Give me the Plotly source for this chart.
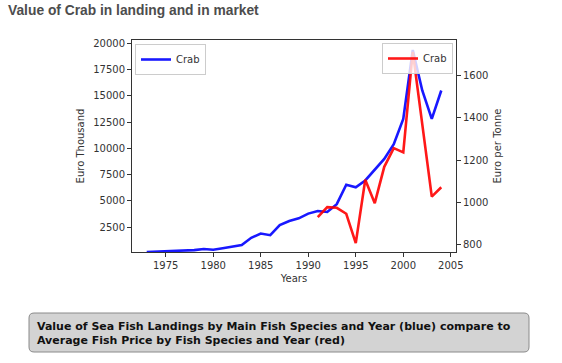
import plotly.graph_objects as go

years_landing = list(range(1973, 2005))
value_landing = [150, 180, 200, 280, 300, 330, 430, 360, 500, 650, 820, 1500, 1900, 1750,
                 2700, 3100, 3350, 3800, 4050, 3950, 4700, 6550, 6300, 6950, 7950, 9000,
                 10400, 12800, 19350, 15500, 12800, 15500]
years_price = list(range(1991, 2005))
price_market = [931, 978, 975, 947, 809, 1107, 997, 1168, 1256, 1236, 1709, 1360, 1028, 1072]

W, H = 562, 363
L, R, T, B = 132, 456, 40, 252
pw, ph = R - L, B - T

def px(x):
    return (x - L) / pw

def py(y):
    return (B - y) / ph

fig = go.Figure()
fig.add_trace(go.Scatter(x=years_landing, y=value_landing, mode="lines", name="Crab",
                         line=dict(color="#0000ff", width=2.6), opacity=0.9,
                         legend="legend", yaxis="y", showlegend=True))
fig.add_trace(go.Scatter(x=years_price, y=price_market, mode="lines", name="Crab",
                         line=dict(color="#ff0000", width=2.6), opacity=0.9,
                         legend="legend2", yaxis="y2", showlegend=True))

tickfont = dict(family="DejaVu Sans", size=10, color="#333333")
axis_common = dict(showgrid=False, zeroline=False, showline=True, linecolor="#333333",
                   linewidth=1, ticks="outside", ticklen=4, tickcolor="#333333",
                   tickfont=tickfont, tickformat="d")

x0, x1, y0, y1, r = 29, 529, 313, 352, 5
path = (f"M {px(x0 + r)},{py(y0)} L {px(x1 - r)},{py(y0)} Q {px(x1)},{py(y0)} {px(x1)},{py(y0 + r)} "
        f"L {px(x1)},{py(y1 - r)} Q {px(x1)},{py(y1)} {px(x1 - r)},{py(y1)} "
        f"L {px(x0 + r)},{py(y1)} Q {px(x0)},{py(y1)} {px(x0)},{py(y1 - r)} "
        f"L {px(x0)},{py(y0 + r)} Q {px(x0)},{py(y0)} {px(x0 + r)},{py(y0)} Z")

titlefont = dict(family="DejaVu Sans", size=10, color="#333333")
legfont = dict(family="DejaVu Sans", size=10, color="#333333")

fig.update_layout(
    width=W, height=H,
    margin=dict(l=L, r=W - R, t=T, b=H - B),
    paper_bgcolor="white", plot_bgcolor="white",
    showlegend=True,
    xaxis=dict(range=[1971.45, 2005.55], tickvals=[1975, 1980, 1985, 1990, 1995, 2000, 2005],
               mirror=True, title=dict(text="Years", font=titlefont, standoff=4), **axis_common),
    yaxis=dict(range=[150, 20300], tickvals=[2500, 5000, 7500, 10000, 12500, 15000, 17500, 20000],
               title=dict(text="Euro Thousand", font=titlefont, standoff=6), **axis_common),
    yaxis2=dict(range=[767, 1765], tickvals=[800, 1000, 1200, 1400, 1600], overlaying="y", side="right",
                title=dict(text="Euro per Tonne", font=titlefont, standoff=6), **axis_common),
    legend=dict(x=px(135), y=py(44), xanchor="left", yanchor="top",
                bgcolor="rgba(255,255,255,0.8)", bordercolor="#cccccc", borderwidth=1,
                font=legfont, itemwidth=30, tracegroupgap=0, visible=True),
    legend2=dict(x=px(453), y=py(43), xanchor="right", yanchor="top",
                 bgcolor="rgba(255,255,255,0.8)", bordercolor="#cccccc", borderwidth=1,
                 font=legfont, itemwidth=30, tracegroupgap=0, visible=True),
    shapes=[dict(type="path", path=path, xref="paper", yref="paper",
                 fillcolor="#d3d3d3", line=dict(color="#8a8a8a", width=1), layer="below")],
    annotations=[
        dict(text="<b>Value of Crab in landing and in market</b>", x=px(6), y=py(11),
             xref="paper", yref="paper", xanchor="left", yanchor="middle", showarrow=False,
             font=dict(family="Liberation Sans", size=13.8, color="#4d4d4d")),
        dict(text="<b>Value of Sea Fish Landings by Main Fish Species and Year (blue) compare to<br>"
                  "Average Fish Price by Fish Species and Year (red)</b>",
             x=px(35), y=py(333), xref="paper", yref="paper", xanchor="left", yanchor="middle",
             align="left", showarrow=False,
             font=dict(family="DejaVu Sans", size=11, color="#111111")),
    ],
)

fig.write_html("out.html", config={"displayModeBar": False},
               post_script="document.body.style.margin='0';")
